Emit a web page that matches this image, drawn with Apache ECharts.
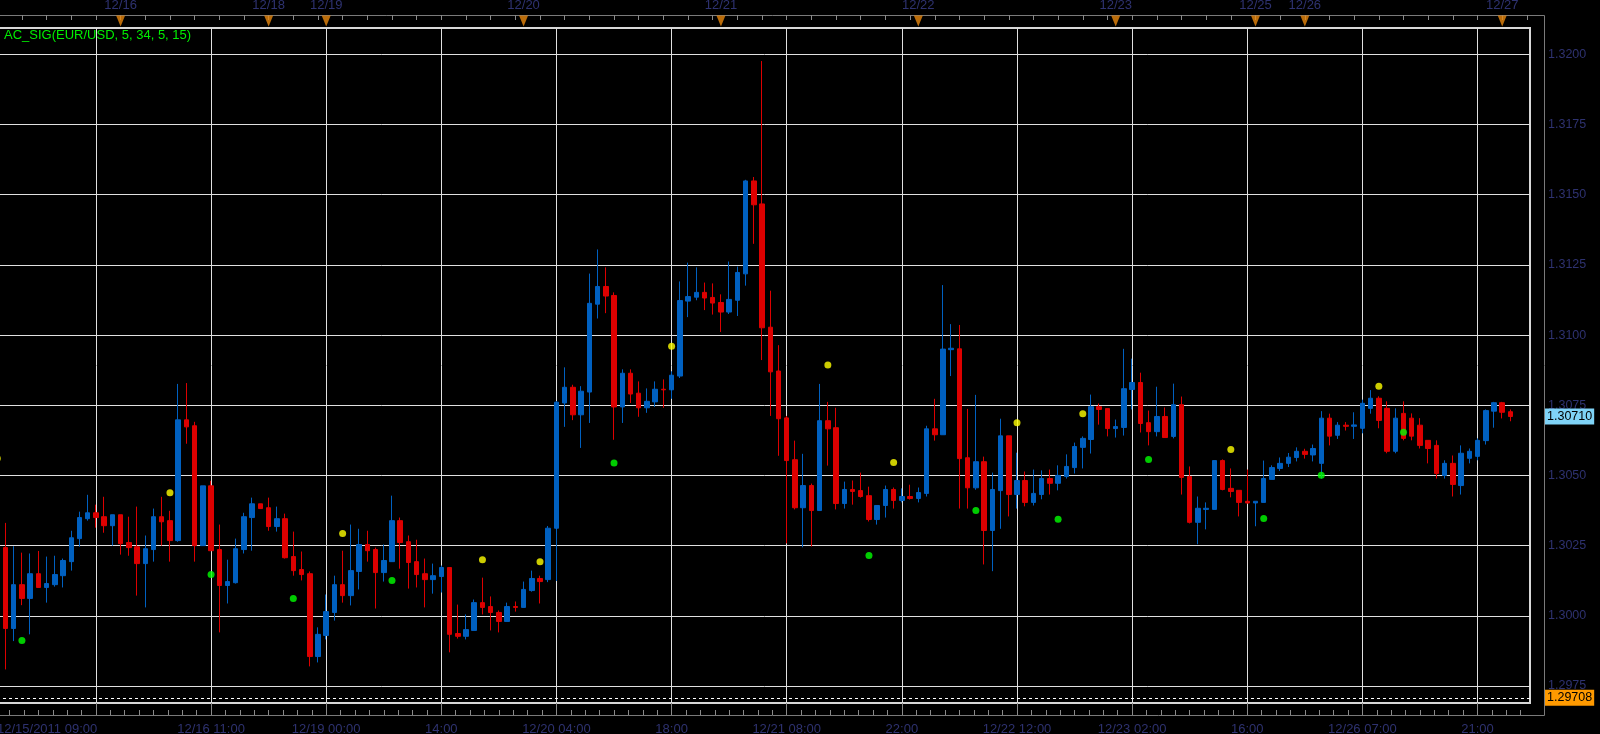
<!DOCTYPE html>
<html>
<head>
<meta charset="utf-8">
<title>AC_SIG EUR/USD</title>
<script src="https://cdn.jsdelivr.net/npm/echarts@6/dist/echarts.min.js"></script>
<style>
  html, body { margin: 0; padding: 0; background: #000; }
  #chart { width: 1600px; height: 734px; }
</style>
</head>
<body>
<div id="chart"></div>
<script>
// hourly EUR/USD bars, index 0 = 12/15/2011 09:00
const opens = [
  1.30374, 1.30243, 1.29955, 1.30111, 1.30062, 1.30150, 1.30101, 1.30111, 1.30143, 1.30193,
  1.30275, 1.30346, 1.30367, 1.30353, 1.30321, 1.30360, 1.30261, 1.30246, 1.30186, 1.30236,
  1.30353, 1.30339, 1.30268, 1.30698, 1.30677, 1.30250, 1.30463, 1.30236, 1.30108, 1.30118,
  1.30236, 1.30350, 1.30399, 1.30385, 1.30318, 1.30346, 1.30211, 1.30165, 1.30150, 1.29855,
  1.29930, 1.30012, 1.30111, 1.30072, 1.30158, 1.30254, 1.30236, 1.30154, 1.30193, 1.30339,
  1.30264, 1.30193, 1.30150, 1.30129, 1.30140, 1.30172, 1.29937, 1.29927, 1.29948, 1.30047,
  1.30033, 1.30012, 1.29980, 1.30033, 1.30030, 1.30090, 1.30133, 1.30129, 1.30312, 1.30758,
  1.30814, 1.30716, 1.30797, 1.31110, 1.31173, 1.31141, 1.30744, 1.30864, 1.30793, 1.30741,
  1.30762, 1.30807, 1.30805, 1.30854, 1.31121, 1.31135, 1.31152, 1.31134, 1.31116, 1.31082,
  1.31124, 1.31218, 1.31549, 1.31467, 1.31028, 1.30872, 1.30705, 1.30556, 1.30385, 1.30464,
  1.30375, 1.30695, 1.30670, 1.30400, 1.30450, 1.30446, 1.30428, 1.30343, 1.30393, 1.30450,
  1.30411, 1.30425, 1.30418, 1.30436, 1.30666, 1.30645, 1.30948, 1.30951, 1.30563, 1.30456,
  1.30549, 1.30304, 1.30446, 1.30641, 1.30432, 1.30482, 1.30404, 1.30432, 1.30489, 1.30472,
  1.30496, 1.30528, 1.30600, 1.30628, 1.30745, 1.30738, 1.30667, 1.30671, 1.30806, 1.30831,
  1.30688, 1.30656, 1.30710, 1.30639, 1.30752, 1.30496, 1.30333, 1.30379, 1.30379, 1.30553,
  1.30454, 1.30447, 1.30408, 1.30402, 1.30404, 1.30486, 1.30525, 1.30543, 1.30564, 1.30586,
  1.30573, 1.30543, 1.30704, 1.30643, 1.30679, 1.30675, 1.30668, 1.30739, 1.30775, 1.30739,
  1.30586, 1.30721, 1.30704, 1.30679, 1.30625, 1.30607, 1.30500, 1.30543, 1.30464, 1.30561,
  1.30568, 1.30624, 1.30729, 1.30759, 1.30727
];
const closes = [
  1.30242, 1.29955, 1.30111, 1.30062, 1.30150, 1.30101, 1.30115, 1.30147, 1.30197, 1.30278,
  1.30350, 1.30367, 1.30350, 1.30321, 1.30360, 1.30257, 1.30243, 1.30186, 1.30239, 1.30353,
  1.30335, 1.30268, 1.30698, 1.30673, 1.30250, 1.30463, 1.30232, 1.30108, 1.30122, 1.30239,
  1.30353, 1.30399, 1.30382, 1.30318, 1.30346, 1.30207, 1.30161, 1.30147, 1.29855, 1.29934,
  1.30015, 1.30111, 1.30072, 1.30161, 1.30254, 1.30232, 1.30154, 1.30197, 1.30339, 1.30261,
  1.30190, 1.30147, 1.30129, 1.30143, 1.30172, 1.29934, 1.29927, 1.29951, 1.30047, 1.30030,
  1.30012, 1.29980, 1.30033, 1.30030, 1.30094, 1.30133, 1.30122, 1.30312, 1.30761, 1.30814,
  1.30716, 1.30800, 1.31113, 1.31173, 1.31139, 1.30744, 1.30864, 1.30790, 1.30741, 1.30764,
  1.30807, 1.30805, 1.30857, 1.31123, 1.31137, 1.31152, 1.31132, 1.31114, 1.31082, 1.31127,
  1.31223, 1.31549, 1.31464, 1.31026, 1.30869, 1.30702, 1.30553, 1.30385, 1.30464, 1.30375,
  1.30695, 1.30666, 1.30400, 1.30450, 1.30443, 1.30425, 1.30343, 1.30393, 1.30450, 1.30411,
  1.30425, 1.30418, 1.30439, 1.30666, 1.30645, 1.30950, 1.30953, 1.30560, 1.30456, 1.30549,
  1.30304, 1.30450, 1.30641, 1.30432, 1.30482, 1.30404, 1.30436, 1.30489, 1.30472, 1.30500,
  1.30532, 1.30603, 1.30632, 1.30745, 1.30735, 1.30667, 1.30674, 1.30809, 1.30831, 1.30685,
  1.30656, 1.30710, 1.30635, 1.30752, 1.30493, 1.30333, 1.30383, 1.30383, 1.30553, 1.30450,
  1.30443, 1.30404, 1.30402, 1.30408, 1.30489, 1.30528, 1.30543, 1.30565, 1.30586, 1.30575,
  1.30596, 1.30704, 1.30640, 1.30679, 1.30675, 1.30680, 1.30757, 1.30775, 1.30696, 1.30586,
  1.30704, 1.30632, 1.30640, 1.30607, 1.30596, 1.30507, 1.30543, 1.30468, 1.30579, 1.30586,
  1.30625, 1.30731, 1.30759, 1.30725, 1.30710
];
const lows = [
  1.30220, 1.29809, 1.29910, 1.30038, 1.29934, 1.30101, 1.30047, 1.30104, 1.30101, 1.30161,
  1.30246, 1.30339, 1.30314, 1.30296, 1.30250, 1.30218, 1.30214, 1.30072, 1.30030, 1.30193,
  1.30250, 1.30193, 1.30264, 1.30613, 1.30193, 1.30250, 1.30232, 1.29941, 1.30044, 1.30115,
  1.30222, 1.30232, 1.30382, 1.30303, 1.30300, 1.30204, 1.30143, 1.30126, 1.29820, 1.29834,
  1.29916, 1.29983, 1.30047, 1.30037, 1.30094, 1.30193, 1.30026, 1.30122, 1.30193, 1.30168,
  1.30097, 1.30101, 1.30030, 1.30079, 1.30083, 1.29870, 1.29919, 1.29916, 1.29948, 1.30005,
  1.29948, 1.29941, 1.29980, 1.30015, 1.30030, 1.30086, 1.30044, 1.30120, 1.30124, 1.30673,
  1.30697, 1.30598, 1.30687, 1.31059, 1.31078, 1.30627, 1.30687, 1.30758, 1.30709, 1.30723,
  1.30744, 1.30741, 1.30773, 1.30847, 1.31064, 1.31124, 1.31089, 1.31073, 1.31011, 1.31075,
  1.31068, 1.31176, 1.31325, 1.30911, 1.30712, 1.30570, 1.30258, 1.30379, 1.30244, 1.30247,
  1.30375, 1.30535, 1.30379, 1.30382, 1.30396, 1.30421, 1.30336, 1.30325, 1.30350, 1.30382,
  1.30404, 1.30414, 1.30404, 1.30425, 1.30624, 1.30645, 1.30854, 1.30382, 1.30382, 1.30449,
  1.30183, 1.30159, 1.30310, 1.30354, 1.30382, 1.30390, 1.30393, 1.30415, 1.30432, 1.30447,
  1.30489, 1.30507, 1.30525, 1.30578, 1.30681, 1.30639, 1.30635, 1.30642, 1.30735, 1.30653,
  1.30607, 1.30639, 1.30635, 1.30632, 1.30432, 1.30329, 1.30255, 1.30308, 1.30379, 1.30447,
  1.30422, 1.30354, 1.30400, 1.30319, 1.30404, 1.30486, 1.30516, 1.30530, 1.30550, 1.30560,
  1.30550, 1.30489, 1.30607, 1.30630, 1.30660, 1.30630, 1.30650, 1.30720, 1.30668, 1.30579,
  1.30579, 1.30625, 1.30625, 1.30596, 1.30543, 1.30489, 1.30489, 1.30425, 1.30432, 1.30543,
  1.30554, 1.30610, 1.30670, 1.30703, 1.30693
];
const highs = [
  1.30400, 1.30331, 1.30248, 1.30225, 1.30222, 1.30231, 1.30211, 1.30214, 1.30204, 1.30303,
  1.30371, 1.30431, 1.30396, 1.30424, 1.30360, 1.30360, 1.30353, 1.30389, 1.30286, 1.30382,
  1.30424, 1.30374, 1.30826, 1.30829, 1.30691, 1.30463, 1.30481, 1.30325, 1.30200, 1.30275,
  1.30367, 1.30421, 1.30399, 1.30421, 1.30389, 1.30364, 1.30300, 1.30229, 1.30158, 1.29959,
  1.30076, 1.30143, 1.30232, 1.30325, 1.30310, 1.30303, 1.30243, 1.30254, 1.30428, 1.30350,
  1.30286, 1.30271, 1.30204, 1.30186, 1.30179, 1.30172, 1.30040, 1.30005, 1.30058, 1.30136,
  1.30069, 1.30019, 1.30047, 1.30051, 1.30122, 1.30161, 1.30143, 1.30320, 1.30765, 1.30885,
  1.30823, 1.30818, 1.31219, 1.31305, 1.31241, 1.31152, 1.30878, 1.30878, 1.30835, 1.30810,
  1.30835, 1.30842, 1.30871, 1.31191, 1.31258, 1.31241, 1.31187, 1.31184, 1.31145, 1.31262,
  1.31244, 1.31553, 1.31563, 1.31976, 1.31158, 1.30964, 1.30712, 1.30624, 1.30577, 1.30471,
  1.30826, 1.30762, 1.30741, 1.30478, 1.30482, 1.30510, 1.30460, 1.30393, 1.30464, 1.30457,
  1.30454, 1.30467, 1.30457, 1.30677, 1.30773, 1.31178, 1.31039, 1.31036, 1.30737, 1.30787,
  1.30567, 1.30510, 1.30702, 1.30641, 1.30581, 1.30514, 1.30521, 1.30518, 1.30521, 1.30536,
  1.30575, 1.30617, 1.30639, 1.30788, 1.30756, 1.30738, 1.30699, 1.30951, 1.30916, 1.30866,
  1.30731, 1.30816, 1.30742, 1.30827, 1.30781, 1.30532, 1.30425, 1.30404, 1.30553, 1.30557,
  1.30525, 1.30447, 1.30521, 1.30408, 1.30553, 1.30536, 1.30564, 1.30580, 1.30600, 1.30595,
  1.30610, 1.30729, 1.30720, 1.30690, 1.30690, 1.30725, 1.30770, 1.30804, 1.30782, 1.30764,
  1.30739, 1.30764, 1.30721, 1.30704, 1.30625, 1.30625, 1.30554, 1.30571, 1.30607, 1.30596,
  1.30632, 1.30735, 1.30762, 1.30762, 1.30735
];

// AC signal dots (bar index, price)
const yellowIdx = [0, 21, 42, 59, 66, 82, 101, 109, 124, 132, 150, 168];
const yellowVals = [1.30560, 1.30438, 1.30293, 1.30200, 1.30193, 1.30960, 1.30893, 1.30546, 1.30688, 1.30720, 1.30592, 1.30818];
const greenIdx = [3, 26, 36, 48, 75, 106, 119, 129, 140, 154, 161, 171];
const greenVals = [1.29912, 1.30147, 1.30062, 1.30126, 1.30544, 1.30215, 1.30375, 1.30344, 1.30557, 1.30347, 1.30501, 1.30654];

// time axis labels (bar index -> text)
const timeIdx = [0, 26, 40, 54, 68, 82, 96, 110, 124, 138, 152, 166, 180];
const timeLabels = ['12/15/2011 09:00', '12/16 11:00', '12/19 00:00', '14:00', '12/20 04:00', '18:00',
  '12/21 08:00', '22:00', '12/22 12:00', '12/23 02:00', '16:00', '12/26 07:00', '21:00'];
const gridIdx = [12, 26, 40, 54, 68, 82, 96, 110, 124, 138, 152, 166, 180];

// day separators on the top strip
const dayIdx = [15, 33, 40, 64, 88, 112, 136, 153, 159, 183];
const dayLabels = ['12/16', '12/18', '12/19', '12/20', '12/21', '12/22', '12/23', '12/25', '12/26', '12/27'];

const priceTicks = [1.2975, 1.3000, 1.3025, 1.3050, 1.3075, 1.3100, 1.3125, 1.3150, 1.3175, 1.3200];
const lastPrice = 1.30710;
const levelPrice = 1.29708;

const X_MIN = -0.03, X_MAX = 186.38;
const Y_MIN = 1.296895, Y_MAX = 1.320937;
const UP = '#0060c0', DOWN = '#dd0000';
const TXT = '#2e3270';
const TICK = '#8a8a8a';
const FONT = 'Liberation Sans';

const candleData = opens.map((o, i) => [i, o, closes[i], lows[i], highs[i]]);

// small tick marks
const minorY = [];
for (let k = 5188; k <= 5284; k++) minorY.push(+(k * 0.00025).toFixed(5));
const minorX = [];
for (let v = 12 - 1.75 * 6; v <= X_MAX; v += 1.75) if (v >= X_MIN) minorX.push(v);
const topTicks = [];
for (let v = 0; v <= X_MAX; v += 3) topTicks.push(v);

const myChart = echarts.init(document.getElementById('chart'));

const plotBox = { left: -3, right: 70, top: 28, height: 675, containLabel: false, outerBoundsMode: 'none' };

const option = {
  backgroundColor: '#000',
  animation: false,
  grid: [
    Object.assign({ show: true, borderColor: '#d8d8d8', borderWidth: 2, backgroundColor: 'transparent' }, plotBox),
    { left: -3, right: 70, top: 0, height: 15, containLabel: false, outerBoundsMode: 'none' },
    Object.assign({ show: false }, plotBox)
  ],
  graphic: [
    {
      type: 'polyline',
      shape: { points: [[0, 15.5], [1544.5, 15.5], [1544.5, 715.5], [0, 715.5]] },
      style: { stroke: '#7a7a7a', lineWidth: 1, fill: null },
      silent: true
    },
    {
      type: 'text', left: 4, top: 29,
      style: { text: 'AC_SIG(EUR/USD, 5, 34, 5, 15)', fill: '#00ee00', font: '13px "Liberation Sans"' },
      silent: true
    }
  ],
  xAxis: [
    {
      gridIndex: 0, type: 'value', min: X_MIN, max: X_MAX, position: 'bottom', offset: 12,
      axisLine: { show: false },
      axisTick: { show: true, inside: true, length: 12, customValues: gridIdx, lineStyle: { color: TICK } },
      axisLabel: {
        show: true, customValues: [X_MIN].concat(timeIdx.slice(1)), alignMinLabel: 'left',
        color: TXT, fontSize: 13, fontFamily: FONT, margin: 8,
        formatter: v => { const j = timeIdx.indexOf(Math.round(v)); return j >= 0 ? timeLabels[j] : ''; }
      },
      splitLine: { show: true, lineStyle: { color: '#e0e0e0', width: 1 } }
    },
    {
      gridIndex: 1, type: 'value', min: X_MIN, max: X_MAX, position: 'bottom',
      axisLine: { show: false }, splitLine: { show: false },
      axisTick: { show: true, length: 5, customValues: topTicks, lineStyle: { color: TICK } },
      axisLabel: {
        show: true, inside: true, customValues: dayIdx, color: TXT, fontSize: 13, fontFamily: FONT, margin: 3,
        formatter: v => { const j = dayIdx.indexOf(Math.round(v)); return j >= 0 ? dayLabels[j] : ''; }
      }
    },
    {
      gridIndex: 2, type: 'value', min: X_MIN, max: X_MAX, position: 'bottom', offset: 12,
      axisLine: { show: false }, axisLabel: { show: false }, splitLine: { show: false },
      axisTick: { show: true, inside: true, length: 5, customValues: minorX, lineStyle: { color: TICK } }
    }
  ],
  yAxis: [
    {
      gridIndex: 0, type: 'value', min: Y_MIN, max: Y_MAX, position: 'right', offset: 14,
      axisLine: { show: false },
      axisTick: { show: true, inside: true, length: 14, customValues: priceTicks, lineStyle: { color: TICK } },
      axisLabel: { show: true, customValues: priceTicks, color: TXT, fontSize: 12.5, fontFamily: FONT, margin: 4, formatter: v => v.toFixed(4) },
      splitLine: { show: true, lineStyle: { color: '#e0e0e0', width: 1 } }
    },
    { gridIndex: 1, type: 'value', min: 0, max: 1, show: false },
    {
      gridIndex: 2, type: 'value', min: Y_MIN, max: Y_MAX, position: 'right', offset: 14,
      axisLine: { show: false }, axisLabel: { show: false }, splitLine: { show: false },
      axisTick: { show: true, inside: true, length: 6, customValues: minorY, lineStyle: { color: TICK } }
    }
  ],
  series: [
    {
      type: 'candlestick',
      xAxisIndex: 0, yAxisIndex: 0,
      data: candleData,
      barWidth: 5,
      clip: false,
      itemStyle: { color: UP, color0: DOWN, borderColor: UP, borderColor0: DOWN, borderWidth: 1 },
      markLine: {
        silent: true, symbol: 'none', animation: false, precision: 5,
        data: [
          {
            yAxis: levelPrice,
            lineStyle: { color: '#ffffff', type: [3, 3], width: 1 },
            label: {
              show: true, position: 'end', distance: 15, formatter: () => levelPrice.toFixed(5),
              color: '#000', backgroundColor: '#ff9a00', padding: [2, 2, 1, 2], fontSize: 12.5, fontFamily: FONT
            }
          },
          {
            yAxis: lastPrice,
            lineStyle: { color: 'rgba(0,0,0,0)', width: 0 },
            label: {
              show: true, position: 'end', distance: 15, formatter: () => lastPrice.toFixed(5),
              color: '#000', backgroundColor: '#7fd3f7', padding: [2, 2, 1, 2], fontSize: 12.5, fontFamily: FONT
            }
          }
        ]
      }
    },
    {
      type: 'scatter', xAxisIndex: 0, yAxisIndex: 0, clip: false,
      data: yellowIdx.map((x, i) => [x, yellowVals[i]]),
      symbol: 'circle', symbolSize: 7, itemStyle: { color: '#ffff00' }
    },
    {
      type: 'scatter', xAxisIndex: 0, yAxisIndex: 0, clip: false,
      data: greenIdx.map((x, i) => [x, greenVals[i]]),
      symbol: 'circle', symbolSize: 7, itemStyle: { color: '#00ff00' }
    },
    {
      type: 'scatter', xAxisIndex: 1, yAxisIndex: 1, clip: false,
      data: dayIdx.map(x => [x, 0]),
      symbol: 'triangle', symbolRotate: 180, symbolSize: [9, 11], symbolOffset: [0, 6],
      itemStyle: { color: '#e8870c' }
    }
  ]
};

myChart.setOption(option);
</script>
</body>
</html>
